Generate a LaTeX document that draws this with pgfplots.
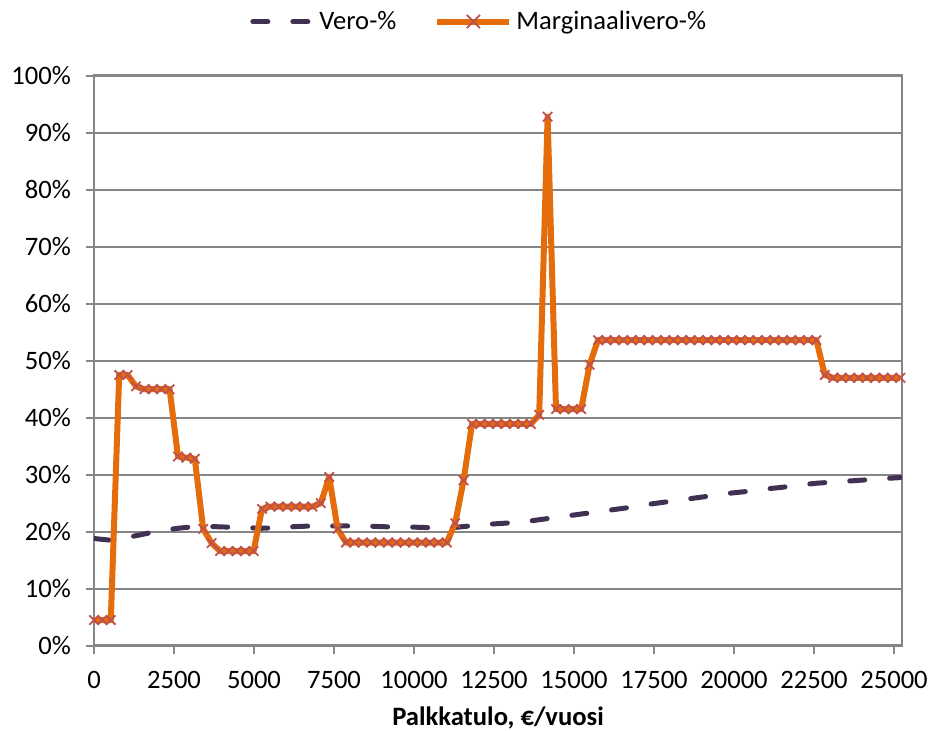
\documentclass[border=0pt]{standalone}
\usepackage{fontspec}
\setmainfont{Carlito}
\usepackage{pgfplots}
\pgfplotsset{compat=1.18}
\definecolor{axgray}{HTML}{868686}
\definecolor{veropurple}{HTML}{403152}
\definecolor{margorange}{HTML}{E46C0A}
\definecolor{markred}{HTML}{C0504D}
\newcommand{\fs}{\fontsize{13.3}{16}\selectfont}
\begin{document}
\begin{tikzpicture}
\useasboundingbox (-47pt,-42.65pt) rectangle (419.5pt,322.85pt);
\begin{axis}[
  scale only axis, width=404pt, height=285pt,
  xmin=0, xmax=25250, ymin=0, ymax=100,
  xtick={0,2500,...,25000}, ytick={0,10,...,100},
  scaled x ticks=false,
  xtick pos=left, ytick pos=left, tick align=outside,
  major tick length=4pt,
  tick style={axgray, line width=1pt},
  axis line style={axgray, line width=1.2pt},
  ymajorgrids, major grid style={axgray, line width=1pt},
  /pgf/number format/assume math mode=true,
  /pgf/number format/1000 sep={},
  every tick label/.append style={font=\fs, text=black},
  yticklabel={\pgfmathprintnumber{\tick}\%},
  yticklabel style={xshift=-4pt},
  xticklabel style={yshift=-5pt},
  xlabel={\textbf{Palkkatulo, €/vuosi}},
  xlabel style={font=\fs, at={(axis description cs:0.5,0)}, anchor=center, yshift=-36pt},
  legend columns=2,
  legend style={at={(rel axis cs:0.478,1.095)}, anchor=center, draw=none, fill=none,
    font=\fs, /tikz/every even column/.append style={column sep=17pt}},
]
\addplot[veropurple, line width=2.5pt, line cap=round, dash pattern=on 7.5pt off 12.5pt,
  legend image code/.code={\draw[veropurple, line width=2.5pt, line cap=round, dash pattern=on 7.5pt off 12.5pt] (1.25pt,0pt) -- (31.25pt,0pt);}]
coordinates {
(0,18.8) (525,18.5) (1050,19.0) (1575,19.6) (2100,20.2) (2625,20.6) (3150,20.9)
(3675,20.9) (4200,20.8) (4725,20.7) (5250,20.6) (5775,20.7) (6300,20.9) (6825,21.0)
(7350,21.0) (7875,21.0) (8400,21.0) (8925,20.9) (9450,20.8) (9975,20.8) (10500,20.7)
(11025,20.6) (11550,20.9) (12075,21.2) (12600,21.4) (13125,21.6) (13650,21.9)
(14175,22.3) (14700,22.7) (15225,23.1) (15750,23.5) (16275,23.9) (16800,24.3)
(17325,24.8) (17850,25.2) (18375,25.6) (18900,26.0) (19425,26.4) (19950,26.8)
(20475,27.1) (21000,27.5) (21525,27.8) (22050,28.2) (22575,28.5) (23100,28.7)
(23625,28.9) (24150,29.1) (24675,29.3) (25200,29.5)
};
\addlegendentry{Vero-\%}
\addplot[margorange, line width=3pt, line join=round,
  mark=x, mark size=3.3pt, mark options={markred, line width=0.9pt},
  legend image code/.code={\draw[margorange, line width=3pt] (0pt,0pt) -- (36pt,0pt);
    \draw[markred, line width=0.9pt] (18pt,0pt) +(-3.3pt,-3.3pt) -- +(3.3pt,3.3pt) +(-3.3pt,3.3pt) -- +(3.3pt,-3.3pt);}]
coordinates {
(0,4.5) (262.5,4.5) (525,4.5) (787.5,47.5) (1050,47.5) (1312.5,45.5) (1575,45.0)
(1837.5,45.0) (2100,45.0) (2362.5,45.0) (2625,33.2) (2887.5,33.0) (3150,32.8)
(3412.5,20.5) (3675,18.0) (3937.5,16.6) (4200,16.6) (4462.5,16.6) (4725,16.6)
(4987.5,16.6) (5250,24.0) (5512.5,24.4) (5775,24.4) (6037.5,24.4) (6300,24.4)
(6562.5,24.4) (6825,24.4) (7087.5,25.0) (7350,29.6) (7612.5,20.5) (7875,18.1)
(8137.5,18.1) (8400,18.1) (8662.5,18.1) (8925,18.1) (9187.5,18.1) (9450,18.1)
(9712.5,18.1) (9975,18.1) (10237.5,18.1) (10500,18.1) (10762.5,18.1) (11025,18.1)
(11287.5,21.5) (11550,29.0) (11812.5,38.9) (12075,38.9) (12337.5,38.9) (12600,38.9)
(12862.5,38.9) (13125,38.9) (13387.5,38.9) (13650,38.9) (13912.5,40.5) (14175,92.8)
(14437.5,41.5) (14700,41.5) (14962.5,41.5) (15225,41.5) (15487.5,49.3) (15750,53.6)
(16012.5,53.6) (16275,53.6) (16537.5,53.6) (16800,53.6) (17062.5,53.6) (17325,53.6)
(17587.5,53.6) (17850,53.6) (18112.5,53.6) (18375,53.6) (18637.5,53.6) (18900,53.6)
(19162.5,53.6) (19425,53.6) (19687.5,53.6) (19950,53.6) (20212.5,53.6) (20475,53.6)
(20737.5,53.6) (21000,53.6) (21262.5,53.6) (21525,53.6) (21787.5,53.6) (22050,53.6)
(22312.5,53.6) (22575,53.6) (22837.5,47.5) (23100,47.0) (23362.5,47.0) (23625,47.0)
(23887.5,47.0) (24150,47.0) (24412.5,47.0) (24675,47.0) (24937.5,47.0) (25200,47.0)
};
\addlegendentry{Marginaalivero-\%}
\end{axis}
\end{tikzpicture}
\end{document}
